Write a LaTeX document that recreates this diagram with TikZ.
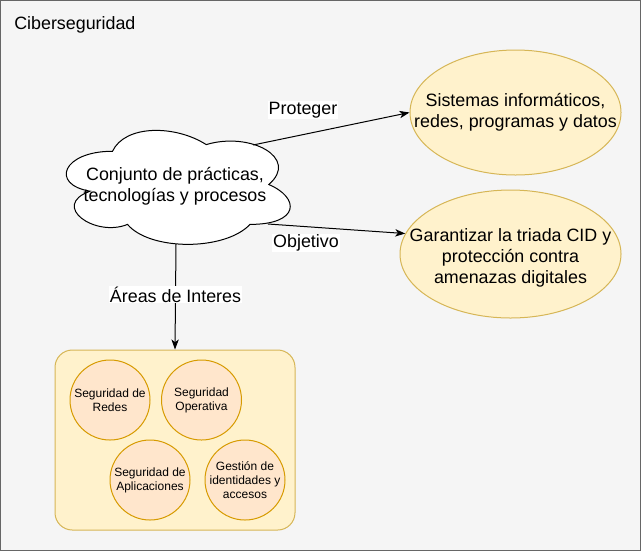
\documentclass[tikz,border=0pt]{standalone}
\usepackage{fontspec}
\setmainfont{Liberation Sans}
\usetikzlibrary{arrows.meta,shapes.geometric}
\definecolor{bgc}{HTML}{F5F5F5}
\definecolor{bgline}{HTML}{666666}
\definecolor{yfill}{HTML}{FFF2CC}
\definecolor{yline}{HTML}{D6B656}
\definecolor{ofill}{HTML}{FFE6CC}
\definecolor{oline}{HTML}{D79B00}
\tikzset{
  bigtxt/.style={font=\fontsize{13.4}{15.8}\selectfont, align=center},
  smalltxt/.style={font=\fontsize{9}{10.6}\selectfont, align=center},
  yell/.style={ellipse, draw=yline, fill=yfill, line width=0.75pt, inner sep=0pt},
  ocirc/.style={circle, draw=oline, fill=ofill, line width=0.75pt, inner sep=0pt, minimum size=60pt},
  conn/.style={draw=black, line width=0.75pt, -{Stealth[length=7.5pt,width=5.5pt,inset=2pt]}},
  lbl/.style={bigtxt, fill=white, inner sep=0.8pt}
}
\begin{document}
\begin{tikzpicture}[x=0.75pt,y=-0.75pt]
\useasboundingbox (0,0) rectangle (641,551);
\draw[fill=bgc, draw=bgline, line width=0.75pt] (0.5,0.5) rectangle (640.5,550.5);
\node[anchor=west, font=\fontsize{13.4}{15.8}\selectfont, inner sep=0pt] (title) at (14,25) {Ciberseguridad};

% cloud
\begin{scope}[shift={(50,118)}, x=187.5pt, y=-99.75pt]
\draw[fill=white, draw=black, line width=0.75pt]
 (0.25,0.25) .. controls (0.05,0.25) and (0,0.5) .. (0.16,0.55)
 .. controls (0,0.66) and (0.18,0.9) .. (0.31,0.8)
 .. controls (0.4,1) and (0.7,1) .. (0.8,0.8)
 .. controls (1,0.8) and (1,0.6) .. (0.875,0.5)
 .. controls (1,0.3) and (0.8,0.1) .. (0.625,0.2)
 .. controls (0.5,0.05) and (0.3,0.05) .. (0.25,0.25) -- cycle;
\end{scope}
\node[bigtxt, inner sep=0pt] (cloud) at (175,186) {Conjunto de prácticas,\\tecnologías y procesos};
\coordinate (cP) at (253,145);
\coordinate (cO) at (268,224);
\coordinate (cD) at (176,244);

% ellipses
\node[yell, minimum width=158.25pt, minimum height=93.75pt,
  label={[bigtxt]center:Sistemas informáticos,\\redes, programas y datos}] (sis) at (515.5,112.5) {};
\node[yell, minimum width=165.75pt, minimum height=96pt,
  label={[bigtxt, yshift=-3pt]center:Garantizar la triada CID y\\protección contra\\amenazas digitales}] (obj) at (510.5,254) {};

% container
\node[draw=yline, fill=yfill, line width=0.75pt, rounded corners=13pt, minimum width=180pt, minimum height=135pt, inner sep=0pt] (box) at (175,440) {};
\node[ocirc, label={[smalltxt]center:Seguridad de\\Redes}] (c1) at (110,400) {};
\node[ocirc, label={[smalltxt]center:Seguridad\\Operativa}] (c2) at (201.5,400) {};
\node[ocirc, label={[smalltxt]center:Seguridad de\\Aplicaciones}] (c3) at (150,480) {};
\node[ocirc, label={[smalltxt]center:Gestión de\\identidades y\\accesos}] (c4) at (245,480) {};

% connectors
\draw[conn] (cP) -- (sis.west);
\draw[conn] (cO) -- (obj.169);
\draw[conn] (cD) -- (box.north);

\node[lbl] (lp) at (303,110) {Proteger};
\node[lbl] (lo) at (306,243) {Objetivo};
\node[lbl] (la) at (175.5,294.5) {Áreas de Interes};
\end{tikzpicture}
\end{document}
